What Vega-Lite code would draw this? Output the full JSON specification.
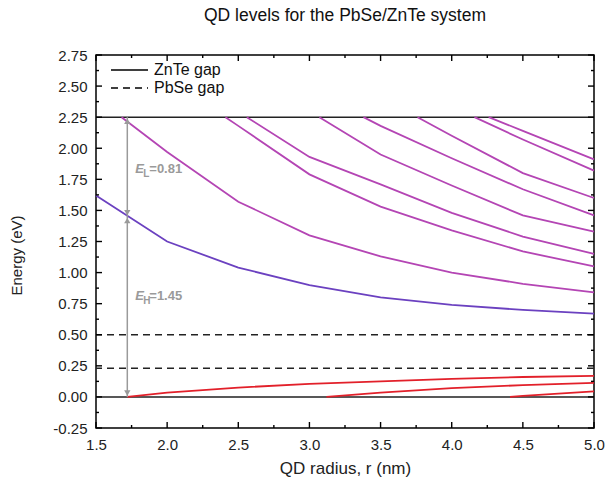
{
  "$schema": "https://vega.github.io/schema/vega-lite/v6.json",
  "width": 498,
  "height": 373,
  "autosize": "none",
  "padding": {"left": 96, "top": 55, "right": 12, "bottom": 55},
  "background": "white",
  "title": {"text": "QD levels for the PbSe/ZnTe system", "fontSize": 17.5, "fontWeight": "normal", "font": "Liberation Sans", "color": "#111", "anchor": "middle", "offset": 24},
  "config": {
    "font": "Liberation Sans",
    "view": {"stroke": "#000", "strokeWidth": 1.5},
    "axis": {
      "grid": false,
      "domain": false,
      "ticks": false,
      "labelFont": "Liberation Sans",
      "labelFontSize": 15,
      "labelColor": "#222",
      "labelOverlap": false,
      "labelFlush": false,
      "titleFont": "Liberation Sans",
      "titleFontWeight": "normal",
      "titleColor": "#222"
    }
  },
  "resolve": {"axis": {"x": "independent", "y": "independent"}},
  "datasets": {
    "curves": [
      {"id": "e1", "kind": "ground", "r": 1.5, "E": 1.62},
      {"id": "e1", "kind": "ground", "r": 2.0, "E": 1.25},
      {"id": "e1", "kind": "ground", "r": 2.5, "E": 1.04},
      {"id": "e1", "kind": "ground", "r": 3.0, "E": 0.9},
      {"id": "e1", "kind": "ground", "r": 3.5, "E": 0.8},
      {"id": "e1", "kind": "ground", "r": 4.0, "E": 0.74},
      {"id": "e1", "kind": "ground", "r": 4.5, "E": 0.7},
      {"id": "e1", "kind": "ground", "r": 5.0, "E": 0.67},
      {"id": "e2", "kind": "excited", "r": 1.68, "E": 2.25},
      {"id": "e2", "kind": "excited", "r": 2.0, "E": 1.97},
      {"id": "e2", "kind": "excited", "r": 2.5, "E": 1.57},
      {"id": "e2", "kind": "excited", "r": 3.0, "E": 1.3},
      {"id": "e2", "kind": "excited", "r": 3.5, "E": 1.13},
      {"id": "e2", "kind": "excited", "r": 4.0, "E": 1.0},
      {"id": "e2", "kind": "excited", "r": 4.5, "E": 0.91},
      {"id": "e2", "kind": "excited", "r": 5.0, "E": 0.84},
      {"id": "e3", "kind": "excited", "r": 2.41, "E": 2.25},
      {"id": "e3", "kind": "excited", "r": 2.5, "E": 2.18},
      {"id": "e3", "kind": "excited", "r": 3.0, "E": 1.79},
      {"id": "e3", "kind": "excited", "r": 3.5, "E": 1.53},
      {"id": "e3", "kind": "excited", "r": 4.0, "E": 1.34},
      {"id": "e3", "kind": "excited", "r": 4.5, "E": 1.17},
      {"id": "e3", "kind": "excited", "r": 5.0, "E": 1.05},
      {"id": "e4", "kind": "excited", "r": 2.56, "E": 2.25},
      {"id": "e4", "kind": "excited", "r": 3.0, "E": 1.93},
      {"id": "e4", "kind": "excited", "r": 3.5, "E": 1.71},
      {"id": "e4", "kind": "excited", "r": 4.0, "E": 1.48},
      {"id": "e4", "kind": "excited", "r": 4.5, "E": 1.29},
      {"id": "e4", "kind": "excited", "r": 5.0, "E": 1.15},
      {"id": "e5", "kind": "excited", "r": 3.07, "E": 2.25},
      {"id": "e5", "kind": "excited", "r": 3.5, "E": 1.95},
      {"id": "e5", "kind": "excited", "r": 4.0, "E": 1.7},
      {"id": "e5", "kind": "excited", "r": 4.5, "E": 1.46},
      {"id": "e5", "kind": "excited", "r": 5.0, "E": 1.33},
      {"id": "e6", "kind": "excited", "r": 3.38, "E": 2.25},
      {"id": "e6", "kind": "excited", "r": 3.5, "E": 2.18},
      {"id": "e6", "kind": "excited", "r": 4.0, "E": 1.92},
      {"id": "e6", "kind": "excited", "r": 4.5, "E": 1.67},
      {"id": "e6", "kind": "excited", "r": 5.0, "E": 1.46},
      {"id": "e7", "kind": "excited", "r": 3.76, "E": 2.25},
      {"id": "e7", "kind": "excited", "r": 4.0, "E": 2.1},
      {"id": "e7", "kind": "excited", "r": 4.5, "E": 1.8},
      {"id": "e7", "kind": "excited", "r": 5.0, "E": 1.6},
      {"id": "e8", "kind": "excited", "r": 4.16, "E": 2.25},
      {"id": "e8", "kind": "excited", "r": 4.5, "E": 2.07},
      {"id": "e8", "kind": "excited", "r": 5.0, "E": 1.82},
      {"id": "e9", "kind": "excited", "r": 4.26, "E": 2.25},
      {"id": "e9", "kind": "excited", "r": 4.5, "E": 2.14},
      {"id": "e9", "kind": "excited", "r": 5.0, "E": 1.91},
      {"id": "h1", "kind": "hole", "r": 1.72, "E": 0.0},
      {"id": "h1", "kind": "hole", "r": 2.0, "E": 0.035},
      {"id": "h1", "kind": "hole", "r": 2.5, "E": 0.075},
      {"id": "h1", "kind": "hole", "r": 3.0, "E": 0.105},
      {"id": "h1", "kind": "hole", "r": 3.5, "E": 0.125},
      {"id": "h1", "kind": "hole", "r": 4.0, "E": 0.145},
      {"id": "h1", "kind": "hole", "r": 4.5, "E": 0.16},
      {"id": "h1", "kind": "hole", "r": 5.0, "E": 0.17},
      {"id": "h2", "kind": "hole", "r": 3.12, "E": 0.0},
      {"id": "h2", "kind": "hole", "r": 3.5, "E": 0.035},
      {"id": "h2", "kind": "hole", "r": 4.0, "E": 0.07},
      {"id": "h2", "kind": "hole", "r": 4.5, "E": 0.095},
      {"id": "h2", "kind": "hole", "r": 5.0, "E": 0.113},
      {"id": "h3", "kind": "hole", "r": 4.41, "E": 0.0},
      {"id": "h3", "kind": "hole", "r": 4.5, "E": 0.008},
      {"id": "h3", "kind": "hole", "r": 5.0, "E": 0.045}
    ],
    "gaps": [
      {"name": "ZnTe gap", "E": 0.0},
      {"name": "ZnTe gap", "E": 2.25},
      {"name": "PbSe gap", "E": 0.23},
      {"name": "PbSe gap", "E": 0.5}
    ],
    "xmajor": [{"r": 1.5}, {"r": 2.0}, {"r": 2.5}, {"r": 3.0}, {"r": 3.5}, {"r": 4.0}, {"r": 4.5}, {"r": 5.0}],
    "xminor": [{"r": 1.75}, {"r": 2.25}, {"r": 2.75}, {"r": 3.25}, {"r": 3.75}, {"r": 4.25}, {"r": 4.75}],
    "ymajor": [{"E": -0.25}, {"E": 0.0}, {"E": 0.25}, {"E": 0.5}, {"E": 0.75}, {"E": 1.0}, {"E": 1.25}, {"E": 1.5}, {"E": 1.75}, {"E": 2.0}, {"E": 2.25}, {"E": 2.5}, {"E": 2.75}],
    "yminor": [{"E": -0.125}, {"E": 0.125}, {"E": 0.375}, {"E": 0.625}, {"E": 0.875}, {"E": 1.125}, {"E": 1.375}, {"E": 1.625}, {"E": 1.875}, {"E": 2.125}, {"E": 2.375}, {"E": 2.625}],
    "arrows": [
      {"x": 1.72, "y1": 0.0, "y2": 1.45},
      {"x": 1.72, "y1": 1.45, "y2": 2.25}
    ],
    "upHeads": [
      {"x": 1.72, "y": 1.45},
      {"x": 1.72, "y": 2.25}
    ],
    "downHeads": [
      {"x": 1.72, "y": 0.0},
      {"x": 1.72, "y": 1.45}
    ],
    "labels": [
      {"x": 1.72, "y": 1.83, "sub": "L", "val": "=0.81"},
      {"x": 1.72, "y": 0.81, "sub": "H", "val": "=1.45"}
    ]
  },
  "layer": [
    {
      "data": {"name": "gaps"},
      "mark": {"type": "rule", "strokeWidth": 1.5, "color": "#222"},
      "encoding": {
        "y": {"field": "E", "type": "quantitative", "scale": {"domain": [-0.25, 2.75], "nice": false, "zero": false}, "axis": null},
        "strokeDash": {
          "field": "name", "type": "nominal",
          "scale": {"domain": ["ZnTe gap", "PbSe gap"], "range": [[1, 0], [7, 5]]},
          "legend": {
            "title": null, "orient": "none", "legendX": 14, "legendY": 6,
            "symbolType": "stroke", "symbolSize": 1369, "symbolStrokeColor": "#000", "symbolStrokeWidth": 1.5,
            "labelFontSize": 16, "labelColor": "#111", "labelFont": "Liberation Sans", "labelOffset": 5,
            "clipHeight": 18, "rowPadding": 0, "padding": 0
          }
        }
      }
    },
    {
      "data": {"name": "curves"},
      "mark": {"type": "line", "strokeWidth": 1.8},
      "encoding": {
        "x": {
          "field": "r", "type": "quantitative",
          "scale": {"domain": [1.5, 5.0], "nice": false, "zero": false},
          "axis": {
            "orient": "bottom", "title": "QD radius, r (nm)", "titleFontSize": 17, "titlePadding": 8,
            "values": [1.5, 2.0, 2.5, 3.0, 3.5, 4.0, 4.5, 5.0],
            "format": ".1f", "labelOverlap": false,
            "labelPadding": 9
          }
        },
        "y": {
          "field": "E", "type": "quantitative",
          "scale": {"domain": [-0.25, 2.75], "nice": false, "zero": false},
          "axis": {
            "orient": "left", "title": "Energy (eV)", "titleFontSize": 15, "titleX": -72, "titleY": 200,
            "values": [-0.25, 0, 0.25, 0.5, 0.75, 1.0, 1.25, 1.5, 1.75, 2.0, 2.25, 2.5, 2.75],
            "labelExpr": "datum.value < 0 ? '-' + format(-datum.value, '.2f') : format(datum.value, '.2f')",
            "labelOverlap": false,
            "labelPadding": 9
          }
        },
        "detail": {"field": "id", "type": "nominal"},
        "color": {
          "field": "kind", "type": "nominal",
          "scale": {"domain": ["ground", "excited", "hole"], "range": ["#6b41c0", "#b445b4", "#e2202a"]},
          "legend": null
        }
      }
    },
    {
      "data": {"name": "xmajor"},
      "mark": {"type": "rule", "strokeWidth": 1.4, "color": "#000", "y2Offset": -6},
      "encoding": {"x": {"field": "r", "type": "quantitative", "axis": null}, "y": {"datum": -0.25, "type": "quantitative", "axis": null}, "y2": {"datum": -0.25}}
    },
    {
      "data": {"name": "xmajor"},
      "mark": {"type": "rule", "strokeWidth": 1.4, "color": "#000", "y2Offset": 6},
      "encoding": {"x": {"field": "r", "type": "quantitative", "axis": null}, "y": {"datum": 2.75, "type": "quantitative", "axis": null}, "y2": {"datum": 2.75}}
    },
    {
      "data": {"name": "xminor"},
      "mark": {"type": "rule", "strokeWidth": 1.4, "color": "#000", "y2Offset": -3},
      "encoding": {"x": {"field": "r", "type": "quantitative", "axis": null}, "y": {"datum": -0.25, "type": "quantitative", "axis": null}, "y2": {"datum": -0.25}}
    },
    {
      "data": {"name": "xminor"},
      "mark": {"type": "rule", "strokeWidth": 1.4, "color": "#000", "y2Offset": 3},
      "encoding": {"x": {"field": "r", "type": "quantitative", "axis": null}, "y": {"datum": 2.75, "type": "quantitative", "axis": null}, "y2": {"datum": 2.75}}
    },
    {
      "data": {"name": "ymajor"},
      "mark": {"type": "rule", "strokeWidth": 1.4, "color": "#000", "x2Offset": 6},
      "encoding": {"y": {"field": "E", "type": "quantitative", "axis": null}, "x": {"datum": 1.5, "type": "quantitative", "axis": null}, "x2": {"datum": 1.5}}
    },
    {
      "data": {"name": "ymajor"},
      "mark": {"type": "rule", "strokeWidth": 1.4, "color": "#000", "x2Offset": -6},
      "encoding": {"y": {"field": "E", "type": "quantitative", "axis": null}, "x": {"datum": 5.0, "type": "quantitative", "axis": null}, "x2": {"datum": 5.0}}
    },
    {
      "data": {"name": "yminor"},
      "mark": {"type": "rule", "strokeWidth": 1.4, "color": "#000", "x2Offset": 3},
      "encoding": {"y": {"field": "E", "type": "quantitative", "axis": null}, "x": {"datum": 1.5, "type": "quantitative", "axis": null}, "x2": {"datum": 1.5}}
    },
    {
      "data": {"name": "yminor"},
      "mark": {"type": "rule", "strokeWidth": 1.4, "color": "#000", "x2Offset": -3},
      "encoding": {"y": {"field": "E", "type": "quantitative", "axis": null}, "x": {"datum": 5.0, "type": "quantitative", "axis": null}, "x2": {"datum": 5.0}}
    },
    {
      "data": {"name": "arrows"},
      "mark": {"type": "rule", "strokeWidth": 1.5, "color": "#9a9a9a"},
      "encoding": {
        "x": {"field": "x", "type": "quantitative", "axis": null},
        "y": {"field": "y1", "type": "quantitative", "axis": null},
        "y2": {"field": "y2"}
      }
    },
    {
      "data": {"name": "upHeads"},
      "mark": {"type": "point", "shape": "triangle-up", "filled": true, "size": 40, "color": "#9a9a9a", "opacity": 1, "yOffset": 4},
      "encoding": {
        "x": {"field": "x", "type": "quantitative", "axis": null},
        "y": {"field": "y", "type": "quantitative", "axis": null}
      }
    },
    {
      "data": {"name": "downHeads"},
      "mark": {"type": "point", "shape": "triangle-down", "filled": true, "size": 40, "color": "#9a9a9a", "opacity": 1, "yOffset": -4},
      "encoding": {
        "x": {"field": "x", "type": "quantitative", "axis": null},
        "y": {"field": "y", "type": "quantitative", "axis": null}
      }
    },
    {
      "data": {"name": "labels"},
      "mark": {"type": "text", "text": "E", "align": "left", "baseline": "middle", "dx": 8, "fontSize": 13, "fontStyle": "italic", "fontWeight": "bold", "color": "#9a9a9a"},
      "encoding": {
        "x": {"field": "x", "type": "quantitative", "axis": null},
        "y": {"field": "y", "type": "quantitative", "axis": null}
      }
    },
    {
      "data": {"name": "labels"},
      "mark": {"type": "text", "align": "left", "baseline": "middle", "dx": 16, "dy": 5, "fontSize": 10, "fontWeight": "bold", "color": "#9a9a9a"},
      "encoding": {
        "x": {"field": "x", "type": "quantitative", "axis": null},
        "y": {"field": "y", "type": "quantitative", "axis": null},
        "text": {"field": "sub"}
      }
    },
    {
      "data": {"name": "labels"},
      "mark": {"type": "text", "align": "left", "baseline": "middle", "dx": 22, "fontSize": 13, "fontWeight": "bold", "color": "#9a9a9a"},
      "encoding": {
        "x": {"field": "x", "type": "quantitative", "axis": null},
        "y": {"field": "y", "type": "quantitative", "axis": null},
        "text": {"field": "val"}
      }
    }
  ]
}
